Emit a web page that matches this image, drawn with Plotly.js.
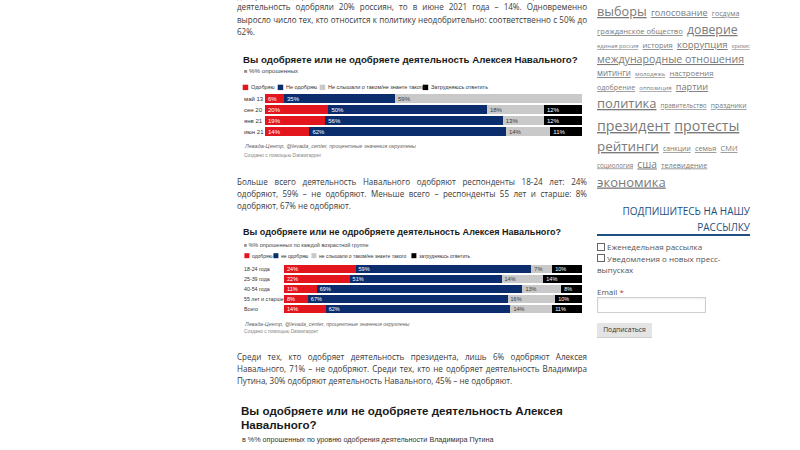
<!DOCTYPE html>
<html><head><meta charset="utf-8">
<script src="https://cdn.plot.ly/plotly-3.0.1.min.js"></script>
<style>
html,body{margin:0;padding:0;background:#fff;width:800px;height:450px;overflow:hidden;}
body{position:relative;font-family:"Open Sans",sans-serif;}
.ln{position:absolute;left:237px;width:350px;font-size:8.05px;line-height:12px;height:12px;color:#3a3a3a;white-space:nowrap;overflow:visible;}
.chart{position:absolute;left:237px;width:353px;}
#t3{position:absolute;left:241px;top:404px;font-family:"Liberation Sans",Arial,sans-serif;font-weight:bold;font-size:11.6px;line-height:13.5px;color:#1a1a1a;}
#s3{position:absolute;left:242px;top:435px;font-family:"Liberation Sans",Arial,sans-serif;font-size:7.2px;color:#333;}
#tags{position:absolute;left:590px;top:0;}
#tags text{fill:#7a7a7a;font-family:"Open Sans",sans-serif;}
#tags tspan{text-decoration:underline;}
.sub{position:absolute;font-family:"Open Sans",sans-serif;}
#subh{left:597px;top:203px;width:153px;text-align:right;font-size:10px;line-height:16px;color:#1e4f82;}
#subline{left:597px;top:234px;width:153px;height:1.5px;background:#1e4f82;}
.cb{font-size:8px;color:#555;line-height:12px;}
.box{display:inline-block;width:6px;height:6px;border:1px solid #666;margin-right:2px;vertical-align:-0.5px;}
#email{left:597px;top:286px;font-size:8px;color:#555;}
#inp{left:597px;top:297px;width:107px;height:14px;border:1px solid #cfcfcf;box-shadow:inset 0 1px 2px rgba(0,0,0,0.08);}
#btn{left:597px;top:323px;width:55px;height:14px;background:#e4e4e4;border-bottom:1px solid #cfcfcf;font-size:6.8px;color:#333;text-align:center;line-height:14px;}
</style>
</head><body>

<div class="ln" style="top:-9.5px">Доля россиян, одобряющих деятельность Алексея Навального, снижается: если в сентябре 2020 года его</div>
<div class="ln" style="top:1px">деятельность одобряли 20% россиян, то в июне 2021 года – 14%. Одновременно</div>
<div class="ln" style="top:13.5px">выросло число тех, кто относится к политику неодобрительно: соответственно с 50% до</div>
<div class="ln last" style="top:26px">62%.</div>

<div id="chart1" class="chart" style="top:45px;height:120px"></div>

<div class="ln" style="top:175.5px">Больше всего деятельность Навального одобряют респонденты 18-24 лет: 24%</div>
<div class="ln" style="top:187.5px">одобряют, 59% – не одобряют. Меньше всего – респонденты 55 лет и старше: 8%</div>
<div class="ln last" style="top:199.5px">одобряют, 67% не одобряют.</div>

<div id="chart2" class="chart" style="top:220px;height:125px"></div>

<div class="ln" style="top:350.5px">Среди тех, кто одобряет деятельность президента, лишь 6% одобряют Алексея</div>
<div class="ln" style="top:362.5px">Навального, 71% – не одобряют. Среди тех, кто не одобряет деятельность Владимира</div>
<div class="ln last" style="top:374.5px">Путина, 30% одобряют деятельность Навального, 45% – не одобряют.</div>

<div id="t3">Вы одобряете или не одобряете деятельность Алексея<br>Навального?</div>
<div id="s3">в %% опрошенных по уровню одобрения деятельности Владимира Путина</div>

<svg id="tags" width="210" height="200">
 <text x="7" y="16"><tspan font-size="12.7">выборы</tspan> <tspan font-size="9.1">голосование</tspan> <tspan font-size="7.1">госдума</tspan></text>
 <text x="7" y="34"><tspan font-size="7.6">гражданское общество</tspan> <tspan font-size="12.3">доверие</tspan></text>
 <text x="7" y="48"><tspan font-size="5.8">единая россия</tspan> <tspan font-size="7.6">история</tspan> <tspan font-size="9.6">коррупция</tspan> <tspan font-size="5.4">кризис</tspan></text>
 <text x="7" y="63"><tspan font-size="10.6">международные отношения</tspan></text>
 <text x="7" y="76"><tspan font-size="8.1">митинги</tspan> <tspan font-size="6.1">молодежь</tspan> <tspan font-size="7.7">настроения</tspan></text>
 <text x="7" y="90"><tspan font-size="7.1">одобрение</tspan> <tspan font-size="6">оппозиция</tspan> <tspan font-size="9.2">партии</tspan></text>
 <text x="7" y="108"><tspan font-size="12.9">политика</tspan> <tspan font-size="6.3">правительство</tspan> <tspan font-size="6.8">праздники</tspan></text>
 <text x="7" y="131"><tspan font-size="14.2">президент</tspan> <tspan font-size="14.2">протесты</tspan></text>
 <text x="7" y="151"><tspan font-size="13.4">рейтинги</tspan> <tspan font-size="6.8">санкции</tspan> <tspan font-size="7.4">семья</tspan> <tspan font-size="7.4">СМИ</tspan></text>
 <text x="7" y="167.5"><tspan font-size="6.3">социология</tspan> <tspan font-size="10.2">сша</tspan> <tspan font-size="7.3">телевидение</tspan></text>
 <text x="7" y="186.5"><tspan font-size="13">экономика</tspan></text>
</svg>

<div id="subh" class="sub">ПОДПИШИТЕСЬ НА НАШУ<br>РАССЫЛКУ</div>
<div id="subline" class="sub"></div>
<div class="sub cb" style="left:597px;top:241px"><span class="box"></span>Еженедельная рассылка</div>
<div class="sub cb" style="left:597px;top:252.5px"><span class="box"></span>Уведомления о новых пресс-</div>
<div class="sub cb" style="left:597px;top:264px">выпусках</div>
<div id="email" class="sub">Email <span style="color:#c0392b">*</span></div>
<div id="inp" class="sub"></div>
<div id="btn" class="sub">Подписаться</div>

<script>
// ---------- DATA ----------
const seriesNames1 = ['Одобряю', 'Не одобряю', 'Не слышали о таком/не знаете такого', 'Затрудняюсь ответить'];
const seriesNames2 = ['одобряю', 'не одобряю', 'не слышали о таком/не знаете такого', 'затрудняюсь ответить'];
const seriesColors = ['#e3161e', '#0b2d6e', '#c9c9c9', '#000000'];
const labelColors = ['#ffffff', '#ffffff', '#3a3a3a', '#ffffff'];

const periods = ['май 13', 'сен 20', 'янв 21', 'июн 21'];
const approve1 = [6, 20, 19, 14];
const disapprove1 = [35, 50, 56, 62];
const unknown1 = [59, 18, 13, 14];
const hard1 = [null, 12, 12, 11];

const ageGroups = ['18-24 года', '25-39 года', '40-54 года', '55 лет и старше', 'Всего'];
const approve2 = [24, 22, 11, 8, 14];
const disapprove2 = [59, 51, 69, 67, 62];
const unknown2 = [7, 14, 13, 16, 14];
const hard2 = [10, 14, 8, 10, 11];

const title1 = 'Вы одобряете или не одобряете деятельность Алексея Навального?';
const subtitle1 = 'в %% опрошенных';
const title2 = 'Вы одобряете или не одробряете деятельность Алексея Навального?';
const subtitle2 = 'в %% опрошенных по каждой возрастной группе';
const source1 = 'Левада-Центр, @levada_center, процентные значения округлены';
const source2 = 'Левада-Центр, @levada_center, процентные значения округлены';
const credit = 'Создано с помощью Datawrapper';

// ---------- TEXT JUSTIFY ----------
document.querySelectorAll('.ln').forEach(el => {
  const span = document.createElement('span');
  span.textContent = el.textContent;
  el.textContent = '';
  el.appendChild(span);
  let w = span.getBoundingClientRect().width;
  if (w > 350) {
    const fs = parseFloat(getComputedStyle(el).fontSize) * 349 / w;
    el.style.fontSize = fs + 'px';
    w = span.getBoundingClientRect().width;
  }
  if (!el.classList.contains('last')) {
    const n = (span.textContent.match(/ /g) || []).length;
    if (n) el.style.wordSpacing = ((350 - w) / n) + 'px';
  }
});

// ---------- BUILD ----------
const FONT = '"Liberation Sans", Arial, sans-serif';

function makeChart(id, cats, series, names, g) {
  g.plotW = g.W - g.ml - g.mr;
  g.plotH = g.H - g.mt - g.mb;
  const bottomAbs = g.top + g.H - g.mb;
  const px = X => (X - g.left - g.ml) / g.plotW;
  const py = Y => (bottomAbs - Y) / g.plotH;

  const traces = series.map((vals, i) => ({
    type: 'bar', orientation: 'h', x: vals, y: cats, name: names[i],
    marker: {color: seriesColors[i], line: {width: 0}},
    text: vals.map(v => v == null ? '' : v + '%'),
    textposition: 'inside', insidetextanchor: 'start', constraintext: 'none',
    textangle: 0,
    textfont: {family: FONT, size: g.barFont, color: labelColors[i]},
    hoverinfo: 'skip', showlegend: false
  }));

  const annotations = [
    {text: g.subtitle, x: px(g.textX), y: py(g.subY), font: {family: FONT, size: g.subFont, color: '#444'}},
    {text: '<i>' + g.source + '</i>', x: px(g.textX), y: py(g.srcY), font: {family: FONT, size: g.srcFont, color: '#666'}},
    {text: credit, x: px(g.textX), y: py(g.credY), font: {family: FONT, size: g.credFont, color: '#888'}}
  ];
  const shapes = [];
  // legend: colour key + series name
  names.forEach((n, i) => {
    annotations.push({text: n, x: px(g.legX[i]), y: py(g.legY),
                      font: {family: FONT, size: g.legFont, color: '#333'}});
    const x0 = g.legX[i] - g.sqGap - g.sq;
    shapes.push({type: 'rect', xref: 'paper', yref: 'paper', layer: 'above',
                 x0: px(x0), x1: px(x0 + g.sq), y0: py(g.legY + g.sq / 2), y1: py(g.legY - g.sq / 2),
                 fillcolor: seriesColors[i], line: {width: 0}});
  });

  const layout = {
    width: g.W, height: g.H,
    margin: {l: g.ml, r: g.mr, t: g.mt, b: g.mb, pad: 0, autoexpand: false},
    paper_bgcolor: '#ffffff', plot_bgcolor: '#ffffff',
    font: {family: FONT, color: '#333'},
    showlegend: false,
    barmode: 'stack', bargap: g.gap,
    xaxis: {domain: [(g.barStart - g.left - g.ml) / g.plotW, 1], range: [0, 100],
            showgrid: false, zeroline: false, showticklabels: false, showline: false, fixedrange: true},
    yaxis: {anchor: 'free', position: 0, autorange: 'reversed', type: 'category',
            ticklabelposition: 'inside', ticks: '', showline: false, showgrid: false, zeroline: false,
            tickfont: {family: FONT, size: g.tickFont, color: '#333'}},
    title: {text: g.title, xref: 'container', yref: 'container',
            x: (g.textX - g.left) / g.W, xanchor: 'left',
            y: 1 - (g.titleY - g.top) / g.H, yanchor: 'middle',
            font: {family: FONT, size: g.titleFont, weight: 'bold', color: '#1a1a1a'}},
    annotations: annotations.map(a => Object.assign({xref: 'paper', yref: 'paper', xanchor: 'left', yanchor: 'middle',
                               showarrow: false, borderpad: 0}, a)),
    shapes: shapes
  };
  Plotly.newPlot(id, traces, layout, {staticPlot: true, displayModeBar: false});
}

makeChart('chart1', periods, [approve1, disapprove1, unknown1, hard1], seriesNames1, {
  left: 237, top: 45, W: 353, H: 120, ml: 3, mr: 8, mt: 47.7, mb: 27.6, gap: 0.24,
  barStart: 265, textX: 243, barFont: 6, tickFont: 6,
  title: title1, titleY: 60, titleFont: 9.7,
  subtitle: subtitle1, subY: 69.5, subFont: 6.2,
  legY: 87, legX: [250, 285, 327, 430], legFont: 5.5, sq: 5.5, sqGap: 1.8,
  source: source1, srcY: 147, srcFont: 5.5, credY: 155.5, credFont: 5
});

makeChart('chart2', ageGroups, [approve2, disapprove2, unknown2, hard2], seriesNames2, {
  left: 237, top: 220, W: 353, H: 125, ml: 3, mr: 8, mt: 44.3, mb: 30.7, gap: 0.27,
  barStart: 284, textX: 243, barFont: 5.5, tickFont: 5.3,
  title: title2, titleY: 231.7, titleFont: 9.05,
  subtitle: subtitle2, subY: 245, subFont: 5.5,
  legY: 256, legX: [251, 280, 318, 418], legFont: 5.0, sq: 5, sqGap: 1.6,
  source: source2, srcY: 324, srcFont: 5.3, credY: 332, credFont: 4.8
});
</script>
</body></html>
